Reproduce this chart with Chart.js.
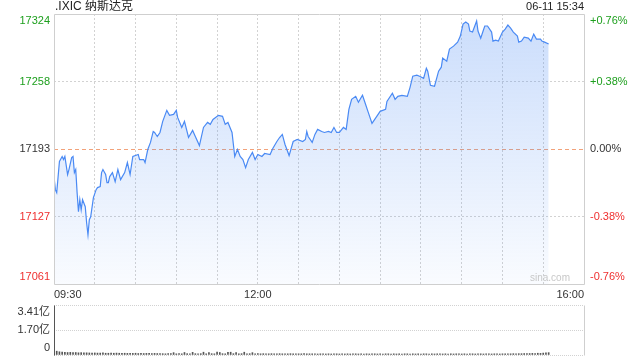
<!DOCTYPE html>
<html>
<head>
<meta charset="utf-8">
<script src="https://cdn.jsdelivr.net/npm/chart.js@4"></script>
<style>
  body { margin: 0; background: #fff; }
  #wrap { position: relative; width: 640px; height: 360px; }
  canvas { position: absolute; left: 0; }
  #main { top: 0; }
  #vol { top: 300px; }
</style>
</head>
<body>
<div id="wrap">
  <canvas id="main" width="640" height="300"></canvas>
  <canvas id="vol" width="640" height="60"></canvas>
</div>
<script>
// minutes after 09:30 and index level
const minutes = [0,1,2,4,6,7,8,10,11,13,14,15,16,17,18,19,20,21,23,24,25,26,27,29,31,32,34,35,36,38,39,40,41,43,45,47,49,52,54,56,58,62,63,66,67,69,71,73,74,76,78,80,83,85,88,90,91,94,96,99,102,104,107,110,113,115,117,121,124,126,128,131,133,135,137,139,141,143,146,148,150,153,155,159,161,164,166,168,170,173,176,179,183,185,186,187,190,192,194,197,199,202,204,206,208,210,213,215,217,219,222,224,227,229,231,234,237,240,244,245,249,251,253,256,260,262,264,267,269,272,274,275,277,280,283,285,286,289,291,294,297,299,301,303,305,306,308,311,312,314,316,317,319,322,323,325,327,330,332,334,336,338,341,342,344,346,349,351,353,355,358,359,361,364];
const prices = [17165.6,17152.9,17150.0,17180.3,17185.2,17182.2,17185.2,17167.6,17172.5,17184.2,17185.2,17169.5,17172.5,17150.0,17131.4,17143.1,17133.3,17143.1,17136.3,17120.6,17108.9,17123.6,17126.5,17145.1,17152.9,17154.9,17155.8,17169.5,17172.5,17167.6,17159.7,17159.7,17165.6,17169.5,17160.7,17172.5,17162.7,17169.5,17179.3,17167.6,17185.2,17187.1,17182.2,17182.2,17179.3,17192.0,17198.9,17209.6,17208.6,17204.7,17208.6,17219.4,17230.1,17225.3,17226.2,17230.1,17223.3,17213.5,17219.4,17203.7,17210.6,17204.7,17195.9,17213.5,17218.4,17216.5,17221.3,17225.3,17224.3,17216.5,17218.4,17208.6,17185.2,17192.0,17185.2,17182.2,17174.4,17182.2,17189.1,17182.2,17187.1,17185.2,17188.1,17187.1,17193.0,17199.8,17203.7,17206.7,17196.9,17186.1,17199.8,17201.8,17199.8,17201.8,17209.6,17204.7,17198.9,17206.7,17211.6,17209.6,17208.6,17209.6,17208.6,17213.5,17208.6,17208.6,17213.5,17211.6,17231.1,17240.9,17243.8,17238.0,17244.8,17237.0,17229.2,17217.4,17223.3,17229.2,17231.1,17238.9,17246.8,17240.9,17243.8,17244.8,17243.8,17252.6,17263.4,17264.4,17263.4,17261.4,17271.2,17268.3,17254.6,17253.6,17268.3,17272.2,17281.0,17278.0,17289.8,17292.7,17296.6,17302.5,17314.2,17316.2,17314.2,17307.4,17306.4,17317.2,17307.4,17300.5,17308.4,17312.3,17312.3,17306.4,17297.6,17298.6,17297.6,17306.4,17309.3,17313.2,17310.3,17306.4,17302.5,17296.6,17297.6,17301.5,17300.5,17297.6,17304.4,17299.6,17299.6,17297.6,17296.6,17294.7];

// volume in 亿, one bar per 2 minutes
const volumes = [
  0.30,0.26,0.22,0.20,0.18,0.17,0.18,0.16,0.17,0.15,0.16,0.14,0.15,0.14,0.13,0.14,0.13,0.13,0.14,0.12,
  0.12,0.13,0.12,0.13,0.12,0.11,0.12,0.11,0.12,0.11,0.12,0.10,0.11,0.10,0.11,0.12,0.10,0.11,0.10,0.10,
  0.09,0.08,0.10,0.09,0.16,0.08,0.09,0.08,0.17,0.09,0.08,0.18,0.09,0.08,0.09,0.19,0.08,0.16,0.09,0.08,
  0.20,0.17,0.09,0.08,0.18,0.19,0.09,0.17,0.08,0.09,0.19,0.08,0.09,0.16,0.08,0.09,0.08,0.09,0.08,0.08,
  0.09,0.08,0.08,0.09,0.08,0.08,0.08,0.09,0.08,0.08,0.08,0.08,0.09,0.08,0.08,0.08,
  0.08,0.07,0.08,0.08,0.07,0.08,0.07,0.08,0.08,0.07,0.08,0.07,0.08,0.07,0.08,0.08,0.07,0.08,0.07,0.08,
  0.07,0.08,0.08,0.07,0.08,0.07,0.08,0.08,0.07,0.08,0.07,0.08,0.07,0.08,0.08,0.07,0.08,0.07,0.08,0.07,
  0.08,0.08,0.07,0.08,0.07,0.08,0.08,0.07,0.08,0.07,0.08,0.07,0.08,0.08,0.07,0.08,0.07,0.08,0.08,0.07,
  0.08,0.08,0.07,0.08,0.08,0.07,0.08,0.08,0.07,0.08,0.08,0.08,0.08,0.09,0.08,
  0.09,0.09,0.10,0.09,0.10,0.11,0.10,0.12,0.11,0.13,0.14,0.16
];

const priceMin = 17061, priceMax = 17324;
const priceTicks = ['17061', '17127', '17193', '17258', '17324'];
const pctTicks = ['-0.76%', '-0.38%', '0.00%', '+0.38%', '+0.76%'];
const volMax = 3.41;
const volTicks = ['0', '1.70亿', '3.41亿'];
const xTickMinutes = [0,30,60,90,120,150,180,210,240,270,300,330,360,390];
const xTickText = { 0: '09:30', 150: '12:00', 390: '16:00' };

const GREEN = '#1d9f1d', RED = '#ef2f2f', DARK = '#333';
Chart.defaults.font.family = "'Liberation Sans', 'Noto Sans CJK SC', sans-serif";
Chart.defaults.font.size = 11;

// push top label down and bottom label up, like the reference
function edgeLabel(text, i, n) {
  if (i === n - 1) return ['', text];
  if (i === 0) return [text, ''];
  return text;
}
function tickColor(i) {
  return i > 2 ? GREEN : (i < 2 ? RED : DARK);
}
function fixY(w) {
  return s => { s.width = w; s.paddingTop = 0; s.paddingBottom = 0; };
}

const frame = {
  id: 'frame',
  afterDraw(chart, args, opts) {
    const a = chart.chartArea, c = chart.ctx;
    const l = Math.round(a.left) + 0.5, r = Math.round(a.right) + 0.5;
    const t = Math.round(a.top) + 0.5, b = Math.round(a.bottom) + 0.5;
    c.save();
    c.lineWidth = 1;
    c.strokeStyle = opts.color;
    c.beginPath();
    if (opts.top) { c.moveTo(l, t); c.lineTo(r, t); }
    if (opts.bottom) { c.moveTo(l, b); c.lineTo(r, b); }
    c.moveTo(r, t); c.lineTo(r, b);
    c.stroke();
    c.strokeStyle = opts.leftColor || opts.color;
    c.beginPath();
    c.moveTo(l, t); c.lineTo(l, b);
    c.stroke();
    c.restore();
  }
};

const texts = {
  id: 'texts',
  afterDraw(chart) {
    const a = chart.chartArea, c = chart.ctx;
    c.save();
    c.textBaseline = 'middle';
    c.fillStyle = '#222';
    c.font = "12px 'Liberation Sans', 'Noto Sans CJK SC', sans-serif";
    c.textAlign = 'left';
    c.fillText('.IXIC 纳斯达克', a.left + 1, 7);
    c.font = "11px 'Liberation Sans', sans-serif";
    c.textAlign = 'right';
    c.fillText('06-11 15:34', a.right, 7);
    c.fillStyle = '#c8c8c8';
    c.font = "10px 'Liberation Sans', sans-serif";
    c.fillText('sina.com', a.right - 14, a.bottom - 6);
    c.restore();
  }
};

new Chart(document.getElementById('main'), {
  type: 'line',
  data: {
    datasets: [{
      data: minutes.map((m, i) => ({ x: m, y: prices[i] })),
      borderColor: '#4a8af4',
      borderWidth: 1.2,
      pointRadius: 0,
      tension: 0,
      fill: 'start',
      backgroundColor: ctx => {
        const a = ctx.chart.chartArea;
        if (!a) return 'transparent';
        const g = ctx.chart.ctx.createLinearGradient(0, a.top, 0, a.bottom);
        g.addColorStop(0, 'rgba(74,138,244,0.29)');
        g.addColorStop(1, 'rgba(74,138,244,0.03)');
        return g;
      }
    }]
  },
  options: {
    responsive: false,
    animation: false,
    devicePixelRatio: 1,
    layout: { padding: { top: 14, left: 0, right: 0, bottom: 0 } },
    plugins: {
      legend: { display: false },
      tooltip: { enabled: false },
      frame: { color: '#cfcfcf', top: true, bottom: true }
    },
    scales: {
      x: {
        type: 'linear',
        min: 0,
        max: 390,
        afterBuildTicks: s => { s.ticks = xTickMinutes.map(v => ({ value: v })); },
        afterFit: s => { s.height = 16; s.paddingLeft = 0; s.paddingRight = 0; },
        ticks: {
          autoSkip: false,
          maxRotation: 0,
          align: 'inner',
          padding: 4,
          color: DARK,
          callback: v => xTickText[v] || ''
        },
        grid: {
          drawTicks: false,
          color: ctx => (ctx.index === 0 || ctx.index === xTickMinutes.length - 1) ? 'transparent' : '#d2d2d2'
        },
        border: { display: false, dash: [2, 2] }
      },
      y: {
        position: 'left',
        min: priceMin,
        max: priceMax,
        afterBuildTicks: s => {
          s.ticks = priceTicks.map((t, i) => ({ value: priceMin + i * (priceMax - priceMin) / 4 }));
        },
        afterFit: fixY(54),
        ticks: {
          padding: 4,
          autoSkip: false,
          color: ctx => tickColor(ctx.index),
          callback: (v, i) => edgeLabel(priceTicks[i], i, priceTicks.length)
        },
        grid: {
          drawTicks: false,
          color: ctx => {
            if (ctx.index === 0 || ctx.index === 4) return 'transparent';
            return ctx.index === 2 ? '#f2a27a' : '#d2d2d2';
          }
        },
        border: {
          display: false,
          dash: ctx => ctx.index === 2 ? [4, 3] : [2, 2]
        }
      },
      y2: {
        position: 'right',
        min: priceMin,
        max: priceMax,
        afterBuildTicks: s => {
          s.ticks = pctTicks.map((t, i) => ({ value: priceMin + i * (priceMax - priceMin) / 4 }));
        },
        afterFit: fixY(56),
        ticks: {
          padding: 6,
          autoSkip: false,
          color: ctx => tickColor(ctx.index),
          callback: (v, i) => edgeLabel(pctTicks[i], i, pctTicks.length)
        },
        grid: { display: false, drawTicks: false },
        border: { display: false }
      }
    }
  },
  plugins: [frame, texts]
});

new Chart(document.getElementById('vol'), {
  type: 'bar',
  data: {
    datasets: [{
      data: volumes.map((v, i) => ({ x: i * 2, y: v })),
      backgroundColor: '#555',
      barThickness: 1,
      borderWidth: 0
    }]
  },
  options: {
    responsive: false,
    animation: false,
    devicePixelRatio: 1,
    layout: { padding: { top: 5, bottom: 5, left: 0, right: 56 } },
    plugins: {
      legend: { display: false },
      tooltip: { enabled: false },
      frame: { color: '#cfcfcf', leftColor: '#555', top: false, bottom: false }
    },
    scales: {
      x: {
        type: 'linear',
        min: 0,
        max: 390,
        offset: false,
        display: false
      },
      y: {
        position: 'left',
        min: 0,
        max: volMax,
        afterBuildTicks: s => {
          s.ticks = volTicks.map((t, i) => ({ value: i * volMax / 2 }));
        },
        afterFit: fixY(54),
        ticks: {
          padding: 4,
          autoSkip: false,
          color: DARK,
          callback: (v, i) => edgeLabel(volTicks[i], i, volTicks.length)
        },
        grid: { drawTicks: false, color: '#d2d2d2' },
        border: { display: false, dash: [1, 1] }
      }
    }
  },
  plugins: [frame]
});
</script>
</body>
</html>
